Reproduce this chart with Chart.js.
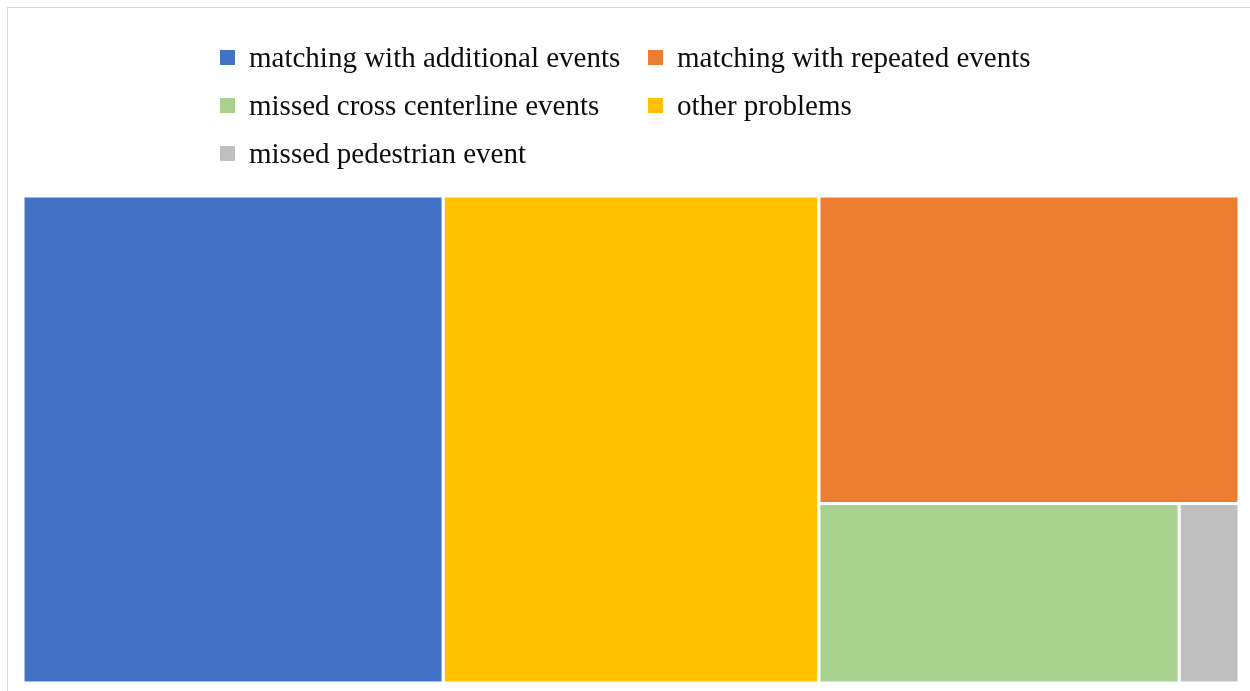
<!DOCTYPE html>
<html lang="en">
<head>
    <meta charset="UTF-8">
    <title>Treemap</title>
    <script src="https://cdn.jsdelivr.net/npm/chart.js"></script>
    <style>
        body { margin: 0; background: #fff; }
        .wrap { position: relative; width: 1250px; height: 691px; overflow: hidden; }
        /* only left and top edges of the frame are in view */
        .frame { position: absolute; left: 7px; top: 7px; width: 1300px; height: 700px; border-left: 1px solid #d9d9d9; border-top: 1px solid #d9d9d9; }
        #chart { position: absolute; left: 0; top: 0; }
        /* legend laid out like the excel grid legend */
        #legend { position: absolute; left: 220px; top: 33px; display: grid; grid-template-columns: 428px auto; }
        .item { display: flex; align-items: center; height: 48px; font-family: "Liberation Serif", "Times New Roman", serif; font-size: 29px; color: #0d0d0d; white-space: nowrap; }
        .box { width: 15px; height: 15px; margin-right: 14px; flex: none; }
    </style>
</head>
<body>
<div class="wrap">
    <div class="frame"></div>
    <canvas id="chart" width="1250" height="691"></canvas>
    <div id="legend"></div>
</div>
<script>
    // data
    const categories = [
        "matching with additional events",
        "matching with repeated events",
        "missed cross centerline events",
        "other problems",
        "missed pedestrian event"
    ];
    const counts = [19, 12, 6, 17, 1];
    const colors = ["#4472C4", "#ED7D31", "#A9D18E", "#FFC000", "#BFBFBF"];

    // treemap area in data units (same ratio as the plot area)
    const W = 1214, H = 485;

    function worst(row, side) {
        const s = row.reduce((a, b) => a + b, 0);
        const mx = Math.max(...row), mn = Math.min(...row);
        return Math.max(side * side * mx / (s * s), (s * s) / (side * side * mn));
    }

    // squarified layout, returns a rect per category index
    function squarify(values) {
        const total = values.reduce((a, b) => a + b, 0);
        const order = values.map((v, i) => i).sort((a, b) => values[b] - values[a]);
        const areas = order.map(i => values[i] * W * H / total);
        const rects = [];
        let x = 0, y = 0, w = W, h = H, i = 0;
        while (i < areas.length) {
            const side = Math.min(w, h);
            let row = [areas[i]], j = i + 1;
            while (j < areas.length && worst(row.concat(areas[j]), side) <= worst(row, side)) {
                row.push(areas[j]);
                j++;
            }
            const s = row.reduce((a, b) => a + b, 0);
            if (w >= h) {
                const cw = s / h;
                let yy = y;
                row.forEach((a, k) => {
                    const rh = a / cw;
                    rects[order[i + k]] = { x0: x, x1: x + cw, y0: yy, y1: yy + rh };
                    yy += rh;
                });
                x += cw; w -= cw;
            } else {
                const rh = s / w;
                let xx = x;
                row.forEach((a, k) => {
                    const cw = a / rh;
                    rects[order[i + k]] = { x0: xx, x1: xx + cw, y0: y, y1: y + rh };
                    xx += cw;
                });
                y += rh; h -= rh;
            }
            i = j;
        }
        return rects;
    }

    const rects = squarify(counts);

    const datasets = categories.map((name, i) => {
        const r = rects[i];
        return {
            label: name,
            data: [
                { x: r.x0, y: r.y0 }, { x: r.x1, y: r.y0 },
                { x: r.x1, y: r.y1 }, { x: r.x0, y: r.y1 }, { x: r.x0, y: r.y0 }
            ],
            backgroundColor: colors[i],
            borderColor: "#ffffff",
            borderWidth: 3,
            pointRadius: 0,
            tension: 0,
            fill: "shape"
        };
    });

    const htmlLegend = {
        id: "htmlLegend",
        afterUpdate(chart) {
            const box = document.getElementById("legend");
            box.innerHTML = "";
            const items = chart.options.plugins.legend.labels.generateLabels(chart);
            items.forEach(item => {
                const div = document.createElement("div");
                div.className = "item";
                const sw = document.createElement("span");
                sw.className = "box";
                sw.style.background = item.fillStyle;
                div.appendChild(sw);
                div.appendChild(document.createTextNode(item.text));
                box.appendChild(div);
            });
        }
    };

    new Chart(document.getElementById("chart"), {
        type: "line",
        data: { datasets: datasets },
        options: {
            responsive: false,
            animation: false,
            layout: { padding: { left: 23, right: 11, top: 196, bottom: 8 } },
            scales: {
                x: { type: "linear", min: 0, max: W, display: false },
                y: { type: "linear", min: 0, max: H, reverse: true, display: false }
            },
            plugins: {
                legend: { display: false },
                tooltip: { enabled: false }
            }
        },
        plugins: [htmlLegend]
    });
</script>
</body>
</html>
